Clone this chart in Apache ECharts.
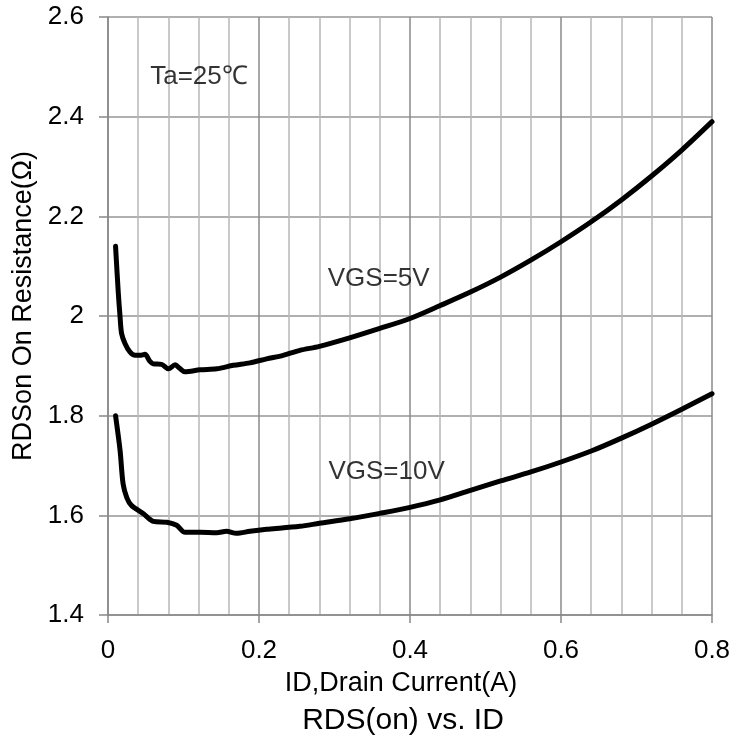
<!DOCTYPE html>
<html>
<head>
<meta charset="utf-8">
<title>RDS(on) vs. ID</title>
<script src="https://cdn.jsdelivr.net/npm/echarts@6/dist/echarts.min.js"></script>
<style>
  html, body { margin: 0; padding: 0; background: #fff; }
  #chart { width: 745px; height: 745px; }
</style>
</head>
<body>
<div id="chart"></div>
<script>
// ID (A) and RDS(on) (ohm), VGS = 5V
const id5 = [0.010, 0.0137, 0.016, 0.018, 0.0225, 0.029, 0.036, 0.042, 0.049, 0.055, 0.060, 0.071, 0.080, 0.089, 0.095, 0.102,
  0.122, 0.144, 0.166, 0.188, 0.210, 0.232, 0.254, 0.280, 0.320, 0.360, 0.400, 0.440, 0.480, 0.520, 0.560, 0.600,
  0.640, 0.680, 0.720, 0.760, 0.800];
const rds5 = [2.140, 2.045, 1.998, 1.965, 1.945, 1.928, 1.921, 1.921, 1.923, 1.910, 1.904, 1.903, 1.894, 1.902, 1.895, 1.888,
  1.892, 1.894, 1.901, 1.906, 1.914, 1.921, 1.931, 1.939, 1.956, 1.975, 1.995, 2.021, 2.048, 2.078, 2.112, 2.149,
  2.189, 2.233, 2.281, 2.333, 2.390];

// VGS = 10V
const id10 = [0.010, 0.016, 0.020, 0.025, 0.031, 0.047, 0.060, 0.078, 0.091, 0.102, 0.122, 0.144, 0.157, 0.170, 0.188,
  0.210, 0.219, 0.254, 0.280, 0.320, 0.360, 0.400, 0.440, 0.480, 0.520, 0.560, 0.600, 0.640, 0.680, 0.720, 0.760, 0.800];
const rds10 = [1.800, 1.730, 1.663, 1.635, 1.620, 1.603, 1.588, 1.586, 1.580, 1.566, 1.566, 1.565, 1.568, 1.564, 1.568,
  1.572, 1.573, 1.578, 1.584, 1.593, 1.604, 1.616, 1.631, 1.650, 1.669, 1.687, 1.707, 1.729, 1.755, 1.783, 1.813, 1.844];

// text notes placed in data coordinates
const notes = [
  { text: 'Ta=25℃', x: 0.1205, y: 2.479 },
  { text: 'VGS=5V', x: 0.3585, y: 2.075 },
  { text: 'VGS=10V', x: 0.369, y: 1.687 }
];

const FONT = 'Liberation Sans';

const toPairs = (xs, ys) => xs.map((x, i) => [x, ys[i]]);

const curve = (name, xs, ys) => ({
  name: name,
  type: 'line',
  data: toPairs(xs, ys),
  showSymbol: false,
  smooth: 0.3,
  lineStyle: { color: '#000', width: 5, cap: 'round', join: 'round' },
  z: 5
});

let chart = echarts.init(document.getElementById('chart'));
chart.setOption({
  animation: false,
  title: {
    text: 'RDS(on) vs. ID',
    left: 398,
    top: 701,
    textAlign: 'center',
    textStyle: { fontFamily: FONT, fontSize: 30, fontWeight: 'normal', color: '#000' }
  },
  grid: { left: 108, right: 33, top: 17, bottom: 130 },
  xAxis: {
    type: 'value',
    min: 0,
    max: 0.8,
    interval: 0.2,
    name: 'ID,Drain Current(A)',
    nameLocation: 'middle',
    nameGap: 55,
    nameTextStyle: { fontFamily: FONT, fontSize: 27, color: '#000', padding: [0, 18, 0, 0] },
    axisLine: { show: true, lineStyle: { color: '#888', width: 1.5 } },
    axisTick: { show: true, length: 8, lineStyle: { color: '#888', width: 1.5 } },
    axisLabel: { margin: 23, fontFamily: FONT, fontSize: 26, color: '#000' },
    splitLine: { show: true, lineStyle: { color: '#8a8a8a', width: 1.5 } },
    minorTick: { show: false, splitNumber: 5 },
    minorSplitLine: { show: true, lineStyle: { color: '#b8b8b8', width: 1.5 } }
  },
  yAxis: {
    type: 'value',
    min: 1.4,
    max: 2.6,
    interval: 0.2,
    name: 'RDSon On Resistance(Ω)',
    nameLocation: 'middle',
    nameGap: 71,
    nameTextStyle: { fontFamily: FONT, fontSize: 27, color: '#000', padding: [0, 0, 0, 20] },
    axisLine: { show: true, lineStyle: { color: '#888', width: 1.5 } },
    axisTick: { show: true, length: 9, lineStyle: { color: '#888', width: 1.5 } },
    axisLabel: {
      margin: 24,
      fontFamily: FONT,
      fontSize: 26,
      color: '#000',
      formatter: (v) => String(Math.round(v * 10) / 10)
    },
    splitLine: { show: true, lineStyle: { color: '#969696', width: 1.5 } }
  },
  series: [
    curve('VGS=5V', id5, rds5),
    curve('VGS=10V', id10, rds10),
    {
      name: 'notes',
      type: 'scatter',
      symbolSize: 1,
      itemStyle: { color: 'rgba(0,0,0,0)' },
      data: notes.map((n) => ({ name: n.text, value: [n.x, n.y] })),
      label: {
        show: true,
        position: 'inside',
        formatter: '{b}',
        fontFamily: FONT,
        fontSize: 26,
        color: '#000'
      },
      z: 6
    }
  ]
});
</script>
</body>
</html>
